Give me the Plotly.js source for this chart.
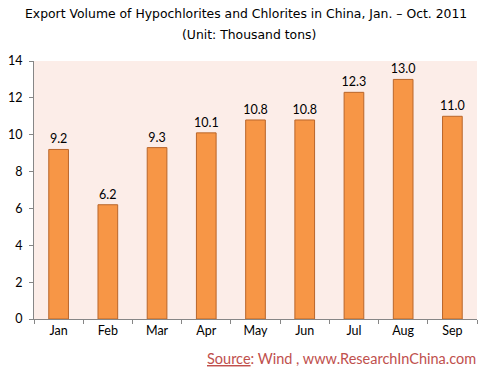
<!DOCTYPE html>
<html><head><meta charset="utf-8">
<script src="https://cdn.plot.ly/plotly-3.0.1.min.js"></script>
<style>html,body{margin:0;padding:0;background:#fff}#chart{width:484px;height:372px}</style>
</head><body><div id="chart"></div>
<script>
var months = ['Jan','Feb','Mar','Apr','May','Jun','Jul','Aug','Sep'];
var volumes = [9.2, 6.2, 9.3, 10.1, 10.8, 10.8, 12.3, 13.0, 11.0];
var yTicks = [0, 2, 4, 6, 8, 10, 12, 14];

var trace = {
  type: 'bar', x: months, y: volumes,
  marker: {color: '#F79646', line: {color: '#B9662B', width: 1}},
  width: 0.4,
  text: volumes.map(function(v){return v.toFixed(1);}),
  textposition: 'outside', cliponaxis: false, constraintext: 'none',
  textfont: {family: 'Lato, sans-serif', size: 12.5, color: '#000'},
  hoverinfo: 'none'
};
var layout = {
  width: 484, height: 372,
  margin: {l: 34, r: 7, t: 61, b: 53},
  paper_bgcolor: '#fff', plot_bgcolor: '#FCEDE8',
  showlegend: false,
  xaxis: {
    tickson: 'boundaries', ticks: 'outside', ticklen: 4, tickcolor: '#868686',
    showline: true, linecolor: '#868686', linewidth: 1,
    tickfont: {family: 'Lato, sans-serif', size: 12.5, color: '#000'},
    showgrid: false, fixedrange: true
  },
  yaxis: {
    range: [0, 14], tickvals: yTicks, ticks: 'outside', ticklen: 4, tickcolor: '#868686',
    showline: true, linecolor: '#868686', linewidth: 1, showgrid: false, zeroline: false,
    tickfont: {family: 'Lato, sans-serif', size: 12.5, color: '#000'}, ticklabelstandoff: 4
  },
  annotations: [
    {text: 'Export Volume of Hypochlorites and Chlorites in China, Jan. – Oct. 2011', xref: 'paper', yref: 'paper',
     x: 0.5, xanchor: 'center', y: 0, yanchor: 'middle', showarrow: false,
     font: {family: 'DejaVu Sans, sans-serif', size: 12.4, color: '#000'}},
    {text: '(Unit: Thousand tons)', xref: 'paper', yref: 'paper', x: 0.5, xanchor: 'center', y: 0, showarrow: false,
     font: {family: 'DejaVu Sans, sans-serif', size: 12.4, color: '#000'}},
    {text: '<span style="text-decoration:underline">Source</span>: Wind , www.ResearchInChina.com', xref: 'paper', yref: 'paper',
     x: 1, xanchor: 'right', y: 0, showarrow: false,
     font: {family: 'Lato, sans-serif', size: 14.5, color: '#C0504D'}}
  ]
};
var ph = 372 - 61 - 53;
function py(pix){ return (372 - 53 - pix) / ph; }
layout.annotations[0].y = py(14); layout.annotations[0].yanchor = 'middle';
layout.annotations[0].x = (246 - 34) / (484 - 41);
layout.annotations[1].y = py(34); layout.annotations[1].yanchor = 'middle';
layout.annotations[1].x = (249 - 34) / (484 - 41);
layout.annotations[2].y = py(358); layout.annotations[2].yanchor = 'middle';
layout.annotations[2].x = (478 - 34) / (484 - 41);
Plotly.newPlot('chart', [trace], layout, {staticPlot: true});
</script></body></html>
